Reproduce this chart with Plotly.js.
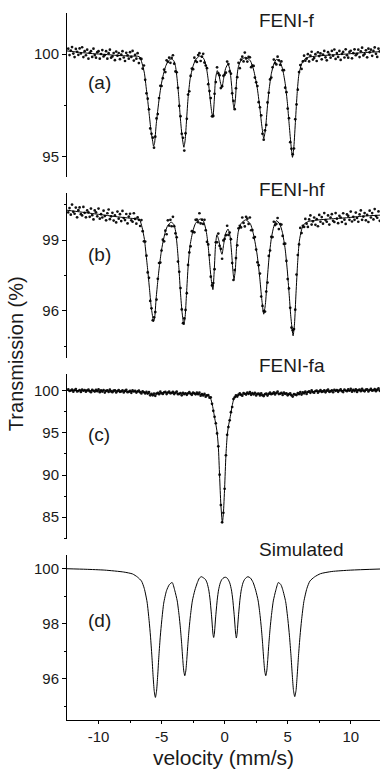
<!DOCTYPE html>
<html>
<head>
<meta charset="utf-8">
<script src="https://cdn.plot.ly/plotly-3.0.1.min.js"></script>
<style>html,body{margin:0;padding:0;background:#fff;}#chart{width:380px;height:773px;}</style>
</head>
<body>
<div id="chart"></div>
<script>
// ---- data ----
const sampleNames = ['FENI-f', 'FENI-hf', 'FENI-fa', 'Simulated'];
const panelLabels = ['(a)', '(b)', '(c)', '(d)'];
const xTickVals = [-10, -5, 0, 5, 10];
const xTickText = ['-10', '-5', '0', '5', '10'];

// channel velocities (mm/s) of the measured spectra
const velocity = [-12.4,-12.3,-12.2,-12.1,-12,-11.9,-11.8,-11.7,-11.6,-11.5,-11.4,-11.3,-11.2,-11.1,-11,-10.9,-10.8,-10.7,-10.6,-10.5,-10.4,-10.3,-10.2,-10.1,-10,-9.9,-9.8,-9.7,-9.6,-9.5,-9.4,-9.3,-9.2,-9.1,-9,-8.9,-8.8,-8.7,-8.6,-8.5,-8.4,-8.3,-8.2,-8.1,-8,-7.9,-7.8,-7.7,-7.6,-7.5,-7.4,-7.3,-7.2,-7.1,-7,-6.9,-6.8,-6.7,-6.6,-6.5,-6.4,-6.3,-6.2,-6.1,-6,-5.9,-5.8,-5.7,-5.6,-5.5,-5.4,-5.3,-5.2,-5.1,-5,-4.9,-4.8,-4.7,-4.6,-4.5,-4.4,-4.3,-4.2,-4.1,-4,-3.9,-3.8,-3.7,-3.6,-3.5,-3.4,-3.3,-3.2,-3.1,-3,-2.9,-2.8,-2.7,-2.6,-2.5,-2.4,-2.3,-2.2,-2.1,-2,-1.9,-1.8,-1.7,-1.6,-1.5,-1.4,-1.3,-1.2,-1.1,-1,-0.9,-0.8,-0.7,-0.6,-0.5,-0.4,-0.3,-0.2,-0.1,0,0.1,0.2,0.3,0.4,0.5,0.6,0.7,0.8,0.9,1,1.1,1.2,1.3,1.4,1.5,1.6,1.7,1.8,1.9,2,2.1,2.2,2.3,2.4,2.5,2.6,2.7,2.8,2.9,3,3.1,3.2,3.3,3.4,3.5,3.6,3.7,3.8,3.9,4,4.1,4.2,4.3,4.4,4.5,4.6,4.7,4.8,4.9,5,5.1,5.2,5.3,5.4,5.5,5.6,5.7,5.8,5.9,6,6.1,6.2,6.3,6.4,6.5,6.6,6.7,6.8,6.9,7,7.1,7.2,7.3,7.4,7.5,7.6,7.7,7.8,7.9,8,8.1,8.2,8.3,8.4,8.5,8.6,8.7,8.8,8.9,9,9.1,9.2,9.3,9.4,9.5,9.6,9.7,9.8,9.9,10,10.1,10.2,10.3,10.4,10.5,10.6,10.7,10.8,10.9,11,11.1,11.2,11.3,11.4,11.5,11.6,11.7,11.8,11.9,12,12.1,12.2,12.3];

// (a) FENI-f measured points
const dotsA = [100.26,99.95,100.17,100.34,100.02,99.85,100.25,100.11,99.96,100.27,
100.03,100.33,99.85,100.14,99.94,100.21,99.77,100.06,100.14,99.86,
100.26,99.95,99.82,100.09,100.14,99.77,100.00,100.19,99.88,99.95,
100.14,99.77,100.04,100.21,99.82,99.88,100.05,99.70,100.12,99.92,
100.05,99.75,99.97,100.14,99.83,99.66,100.06,99.93,99.77,100.09,
99.86,100.15,99.68,99.96,99.77,100.04,99.56,99.79,99.76,99.29,
99.44,98.74,98.08,97.82,97.30,96.37,96.11,95.92,95.43,95.97,
96.86,97.07,97.85,98.45,98.44,98.82,99.24,99.12,99.69,99.62,
99.82,99.57,99.81,99.94,99.53,99.15,99.11,98.35,97.47,96.97,
96.11,95.91,95.29,96.13,96.84,98.02,98.18,98.93,99.29,99.26,
99.82,99.66,99.61,99.95,100.04,99.66,99.87,100.01,99.58,99.44,
99.31,98.53,98.19,97.85,96.96,96.98,98.06,98.63,99.35,99.06,
98.96,98.34,98.43,98.94,98.99,99.09,99.63,99.51,99.15,99.04,
98.08,97.71,97.31,98.33,98.87,99.57,99.31,99.73,99.87,99.64,
100.07,99.78,99.63,99.86,99.84,99.36,99.43,99.42,98.85,98.62,
98.44,97.65,97.40,97.01,96.11,95.82,96.28,96.54,97.64,98.11,
98.76,98.85,99.35,99.73,99.56,99.49,99.87,99.69,99.47,99.64,
99.21,99.21,98.36,98.14,97.34,96.87,95.70,95.38,95.11,95.39,
96.82,97.54,98.26,99.12,99.46,99.27,99.64,99.92,99.67,99.77,
99.99,99.64,99.92,100.11,99.73,99.81,99.99,99.66,100.08,99.90,
100.03,99.74,99.97,100.15,99.84,99.69,100.09,99.97,99.82,100.15,
99.92,100.22,99.76,100.05,99.86,100.15,99.71,100.01,100.10,99.83,
100.23,99.94,99.82,100.10,100.16,99.79,100.04,100.23,99.94,100.01,
100.21,99.85,100.13,100.31,99.93,100.00,100.18,99.84,100.26,100.08,
100.21,99.91,100.15,100.32,100.01,99.86,100.26,100.13];

// (a) fitted curve
const fitAx = [-12.5,-11.5,-10.5,-9.5,-8.5,-7.5,-6.76,-6.55,-6.36,-6.23,-6.09,-5.96,-5.83,-5.7,-5.64,-5.56,-5.43,-5.3,-5.17,-5.03,-4.9,-4.69,-4.5,-4.24,-4.03,-3.89,-3.76,-3.63,-3.5,-3.37,-3.23,-3.13,-3.02,-2.89,-2.73,-2.52,-2.31,-1.99,-1.67,-1.46,-1.3,-1.17,-1.03,-0.93,-0.82,-0.72,-0.58,-0.45,-0.32,-0.21,-0.08,0.08,0.27,0.42,0.56,0.66,0.74,0.85,0.95,1.09,1.32,1.67,2.04,2.3,2.57,2.78,2.94,3.1,3.23,3.37,3.52,3.71,3.9,4.11,4.37,4.58,4.8,4.98,5.11,5.25,5.38,5.49,5.62,5.75,5.88,6.07,6.28,6.63,7.29,8.35,9.67,11,12.32];
const fitAy = [100.15,100.08,100.02,99.98,99.93,99.9,99.87,99.55,99.06,98.41,97.68,96.94,96.21,95.72,95.51,95.64,96.54,97.27,97.92,98.49,98.89,99.38,99.63,99.76,99.67,99.38,98.73,97.84,96.78,95.97,95.45,95.8,96.78,97.92,98.81,99.38,99.71,99.9,99.79,99.38,98.73,97.92,97.19,96.91,97.76,98.81,99.19,98.97,98.57,98.37,98.81,99.3,99.51,99.22,98.41,97.68,97.35,97.76,98.73,99.38,99.71,99.84,99.67,99.22,98.41,97.43,96.54,95.89,96.29,97.27,98.24,99.06,99.51,99.74,99.63,99.3,98.57,97.59,96.62,95.64,94.96,95.48,96.78,98.08,98.97,99.46,99.71,99.84,99.9,99.95,100,100.07,100.11];

// (b) FENI-hf measured points
const dotsB = [100.18,100.36,100.08,100.51,100.20,100.12,100.38,99.97,100.27,100.39,
100.10,100.05,100.41,100.16,99.97,100.26,100.18,99.99,100.34,100.06,
99.88,100.26,100.18,100.01,100.34,99.91,100.10,99.96,100.25,100.02,
99.84,100.14,100.30,99.89,100.01,100.16,99.83,100.05,99.75,100.21,
99.91,100.10,99.81,100.24,99.94,99.85,100.11,99.71,100.00,100.12,
99.84,99.78,100.14,99.90,99.70,99.97,99.86,99.60,99.85,99.38,
98.95,98.94,98.34,97.63,97.40,96.42,96.11,95.60,95.73,95.95,
96.48,97.36,98.03,98.05,98.56,99.02,98.95,99.40,99.25,99.84,
99.62,99.86,99.59,99.99,99.59,99.29,99.12,98.09,97.66,96.97,
96.06,95.48,95.68,96.04,96.75,97.95,98.48,98.74,99.38,99.35,
99.33,99.86,99.87,99.76,100.14,99.71,99.87,99.69,99.86,99.42,
98.93,98.82,98.37,97.45,97.08,97.18,97.77,98.91,98.91,99.28,
98.76,98.63,98.21,98.99,99.05,99.21,99.61,99.22,99.32,99.04,
98.03,97.31,97.73,98.24,98.78,99.50,99.61,99.54,99.96,99.73,
99.58,99.99,99.91,99.69,99.96,99.42,99.43,99.10,99.13,98.60,
98.06,97.94,97.58,96.61,96.21,95.99,95.97,96.82,97.20,98.33,
98.56,99.14,99.13,99.78,99.64,99.69,99.94,99.47,99.68,99.66,
99.18,98.84,98.85,98.12,97.35,96.95,96.13,95.29,95.18,95.23,
96.05,97.54,98.37,98.82,99.52,99.30,99.61,99.56,99.90,99.70,
99.56,99.88,100.05,99.66,99.80,99.96,99.65,99.89,99.59,100.07,
99.78,99.98,99.70,100.15,99.85,99.78,100.05,99.66,99.96,100.10,
99.82,99.77,100.15,99.91,99.72,100.03,99.96,99.77,100.14,99.87,
99.69,100.09,100.03,99.86,100.21,99.79,99.99,99.86,100.17,99.94,
99.78,100.09,100.26,99.86,100.00,100.15,99.84,100.07,99.77,100.25,
99.96,100.15,99.88,100.32,100.02,99.95,100.22,99.82];

// (b) fitted curve
const fitBx = [-12.5,-11.5,-10.5,-9.5,-8.5,-7.5,-6.76,-6.55,-6.36,-6.23,-6.09,-5.96,-5.83,-5.7,-5.64,-5.56,-5.43,-5.3,-5.17,-5.03,-4.9,-4.69,-4.5,-4.24,-4.03,-3.89,-3.76,-3.63,-3.5,-3.37,-3.23,-3.13,-3.02,-2.89,-2.73,-2.52,-2.31,-1.93,-1.67,-1.46,-1.3,-1.17,-1.03,-0.93,-0.82,-0.72,-0.61,-0.45,-0.32,-0.21,-0.08,0.08,0.27,0.42,0.56,0.66,0.74,0.85,0.95,1.09,1.32,1.67,2.04,2.3,2.57,2.78,2.94,3.1,3.23,3.37,3.52,3.71,3.9,4.11,4.37,4.58,4.8,4.98,5.11,5.25,5.43,5.54,5.66,5.79,5.92,6.1,6.3,6.63,7.29,8.35,9.67,11,12.32];
const fitBy = [100.27,100.2,100.13,100.06,99.99,99.93,99.87,99.55,99.03,98.4,97.68,96.94,96.2,95.72,95.54,95.66,96.54,97.27,97.92,98.49,98.89,99.38,99.63,99.76,99.67,99.38,98.73,97.84,96.75,95.92,95.4,95.76,96.75,97.92,98.81,99.38,99.71,99.9,99.79,99.38,98.73,97.92,97.18,96.9,97.76,98.81,99.23,98.97,98.57,98.4,98.81,99.28,99.47,99.2,98.41,97.68,97.33,97.76,98.73,99.38,99.72,99.86,99.69,99.22,98.41,97.43,96.52,95.86,96.27,97.27,98.24,99.1,99.58,99.83,99.68,99.33,98.62,97.65,96.75,95.75,94.94,95.45,96.75,98.05,98.95,99.44,99.68,99.79,99.85,99.9,99.95,100.02,100.06];

// (c) FENI-fa measured points
const dotsC = [100.19,99.98,100.03,100.15,99.90,100.09,100.22,99.93,99.98,100.10,
99.86,100.15,100.01,100.10,99.89,100.05,100.16,99.95,99.83,100.11,
100.01,99.91,100.13,99.96,100.17,99.84,100.05,99.91,100.10,99.79,
100.00,100.06,99.86,100.14,99.93,99.84,100.02,100.06,99.80,99.97,
100.09,99.88,99.93,100.06,99.80,99.99,100.12,99.84,99.88,100.00,
99.76,100.06,99.92,100.00,99.79,99.95,100.04,99.82,99.68,99.95,
99.83,99.69,99.87,99.67,99.85,99.47,99.64,99.47,99.68,99.41,
99.67,99.76,99.60,99.90,99.71,99.63,99.83,99.87,99.62,99.79,
99.92,99.70,99.75,99.87,99.61,99.79,99.90,99.60,99.63,99.73,
99.47,99.76,99.61,99.71,99.52,99.71,99.84,99.64,99.52,99.80,
99.69,99.58,99.78,99.60,99.78,99.43,99.61,99.45,99.63,99.31,
99.47,99.48,99.19,99.22,98.46,97.62,96.91,96.15,94.94,93.41,
90.04,86.43,84.38,85.51,88.36,92.35,94.78,95.70,96.50,97.47,
98.08,99.03,99.24,99.46,99.32,99.54,99.69,99.52,99.42,99.73,
99.65,99.56,99.79,99.64,99.86,99.53,99.73,99.58,99.77,99.45,
99.64,99.67,99.45,99.69,99.46,99.38,99.60,99.67,99.44,99.64,
99.79,99.60,99.66,99.81,99.57,99.77,99.90,99.61,99.65,99.76,
99.51,99.80,99.64,99.70,99.47,99.61,99.69,99.46,99.32,99.62,
99.55,99.49,99.74,99.62,99.86,99.56,99.81,99.70,99.92,99.63,
99.86,99.94,99.76,100.05,99.85,99.77,99.98,100.02,99.77,99.94,
100.08,99.87,99.93,100.06,99.82,100.02,100.15,99.88,99.94,100.07,
99.83,100.13,100.00,100.09,99.88,100.06,100.17,99.96,99.85,100.14,
100.04,99.95,100.17,100.01,100.23,99.90,100.11,99.97,100.18,99.87,
100.08,100.14,99.96,100.24,100.03,99.94,100.14,100.18,99.92,100.09,
100.23,100.02,100.07,100.20,99.96,100.15,100.28,100.00];

// (c) fitted curve
const fitCx = [-12.5,-11,-9.5,-8,-7,-6.4,-6,-5.7,-5.4,-5,-4.4,-3.8,-3.2,-2.7,-2.2,-1.8,-1.5,-1.3,-1.2,-1.1,-1,-0.9,-0.8,-0.7,-0.6,-0.5,-0.4,-0.3,-0.18,-0.1,0,0.1,0.2,0.3,0.4,0.5,0.6,0.7,0.8,1,1.3,2,2.6,3,3.5,4.2,4.8,5.4,5.9,6.5,7.2,8.5,10.5,12.32];
const fitCy = [100.05,100.02,99.99,99.95,99.9,99.82,99.67,99.55,99.65,99.75,99.78,99.72,99.62,99.7,99.65,99.55,99.5,99.4,99.3,99.05,98.5,97.75,96.85,96.05,95.1,93.4,89.9,86.5,84.36,85.4,88.5,92.3,94.6,95.8,96.55,97.4,98.25,98.9,99.25,99.45,99.58,99.68,99.62,99.5,99.63,99.72,99.65,99.5,99.65,99.82,99.92,100,100.06,100.1];

// (d) simulated spectrum
const simDx = [-12.5,-11,-9.5,-8,-7.3,-6.92,-6.59,-6.37,-6.15,-5.99,-5.88,-5.77,-5.67,-5.58,-5.49,-5.4,-5.31,-5.21,-5.1,-4.99,-4.83,-4.61,-4.39,-4.16,-3.96,-3.76,-3.61,-3.51,-3.41,-3.32,-3.24,-3.16,-3.08,-3,-2.91,-2.81,-2.71,-2.56,-2.36,-2.16,-2,-1.85,-1.68,-1.52,-1.39,-1.26,-1.16,-1.1,-1.03,-0.97,-0.92,-0.87,-0.82,-0.77,-0.71,-0.64,-0.58,-0.48,-0.35,-0.22,-0.05,0.08,0.2,0.28,0.41,0.54,0.64,0.7,0.77,0.83,0.88,0.93,0.98,1.03,1.09,1.16,1.22,1.32,1.45,1.58,1.72,1.85,2.05,2.26,2.46,2.66,2.81,2.91,3.01,3.1,3.18,3.26,3.34,3.42,3.51,3.61,3.71,3.86,4.06,4.26,4.46,4.6,4.84,5.02,5.14,5.26,5.37,5.46,5.56,5.66,5.75,5.86,5.98,6.1,6.28,6.52,6.76,7.12,7.6,8.5,10,12.32];
const simDy = [100,99.98,99.95,99.88,99.81,99.7,99.55,99.28,98.79,98.12,97.55,96.83,96.08,95.54,95.32,95.55,96.1,96.85,97.55,98.1,98.75,99.2,99.42,99.5,99.22,98.83,98.3,97.85,97.29,96.7,96.28,96.11,96.28,96.7,97.29,97.85,98.3,98.83,99.22,99.5,99.66,99.71,99.67,99.61,99.48,99.23,98.9,98.61,98.25,97.88,97.61,97.5,97.61,97.88,98.25,98.61,98.9,99.23,99.48,99.61,99.68,99.69,99.66,99.61,99.48,99.23,98.9,98.61,98.25,97.88,97.61,97.48,97.61,97.88,98.25,98.61,98.9,99.23,99.48,99.61,99.68,99.71,99.66,99.5,99.22,98.83,98.3,97.85,97.29,96.7,96.28,96.11,96.28,96.7,97.29,97.85,98.3,98.83,99.22,99.5,99.42,99.25,98.8,98.13,97.56,96.85,96.1,95.57,95.35,95.57,96.1,96.85,97.56,98.13,98.8,99.28,99.55,99.7,99.82,99.9,99.95,99.99];

// ---- drawing ----
const FONT = 'Arial, "Liberation Sans", Helvetica, sans-serif';
const INK = '#1a1a1a';

function dotTrace(y, ax) {
  return {x: velocity, y: y, yaxis: ax, xaxis: 'x', mode: 'markers', type: 'scatter',
    marker: {size: 2.7, color: '#111', line: {width: 0}}, hoverinfo: 'skip'};
}
function lineTrace(x, y, ax) {
  return {x: x, y: y, yaxis: ax, xaxis: 'x', mode: 'lines', type: 'scatter',
    line: {color: '#000', width: 1, shape: 'spline', smoothing: 0.6}, hoverinfo: 'skip'};
}

const data = [
  dotTrace(dotsA, 'y'), lineTrace(fitAx, fitAy, 'y'),
  dotTrace(dotsB, 'y2'), lineTrace(fitBx, fitBy, 'y2'),
  dotTrace(dotsC, 'y3'), lineTrace(fitCx, fitCy, 'y3'),
  lineTrace(simDx, simDy, 'y4')
];

function yAxis(domain, range, dtick, minorDtick) {
  return {
    domain: domain, range: range, anchor: 'x',
    showline: true, linecolor: '#000', linewidth: 1,
    ticks: 'outside', ticklen: 4, tickwidth: 1, tickcolor: '#000',
    tickmode: 'linear', tick0: 0, dtick: dtick,
    minor: {ticks: 'outside', ticklen: 2.5, tickwidth: 1, tickcolor: '#000', tickmode: 'linear', tick0: 0, dtick: minorDtick},
    showgrid: false, zeroline: false,
    tickfont: {size: 15, color: INK, family: FONT}
  };
}

const layout = {
  width: 380, height: 773,
  margin: {l: 67, r: 0, t: 13, b: 53, pad: 0},
  paper_bgcolor: '#fff', plot_bgcolor: '#fff',
  showlegend: false,
  font: {family: FONT, color: INK},
  xaxis: {
    domain: [0, 1], anchor: 'y4', range: [-12.5, 12.32],
    showline: true, linecolor: '#000', linewidth: 1,
    ticks: 'outside', ticklen: 3, tickwidth: 1, tickcolor: '#000',
    tickmode: 'array', tickvals: xTickVals, ticktext: xTickText,
    minor: {ticks: 'outside', ticklen: 2, tickwidth: 1, tickcolor: '#000', tickmode: 'array', tickvals: [-7.5, -2.5, 2.5, 7.5]},
    showgrid: false, zeroline: false,
    tickfont: {size: 15, color: INK, family: FONT},
    title: {text: 'velocity (mm/s)', font: {size: 21, color: INK, family: FONT}, standoff: 6}
  },
  yaxis: yAxis([0.768, 1], [94, 102], 5, 2.5),
  yaxis2: yAxis([0.512, 0.7454], [94, 101], 3, 1.5),
  yaxis3: yAxis([0.256, 0.4894], [82.4, 102], 5, 2.5),
  yaxis4: yAxis([0, 0.2334], [94.5, 100.5], 2, 1),
  annotations: []
};

const titleY = [0.990, 0.751, 0.502, 0.2405];
const labelY = [98.63, 98.4, 94.8, 98.11];
const axesRef = ['y', 'y2', 'y3', 'y4'];
for (let i = 0; i < 4; i++) {
  layout.annotations.push({
    text: sampleNames[i], xref: 'paper', yref: 'paper', x: 0.607, y: titleY[i],
    xanchor: 'left', yanchor: 'middle', showarrow: false,
    font: {size: 19, color: INK, family: FONT}
  });
  layout.annotations.push({
    text: panelLabels[i], xref: 'x', yref: axesRef[i], x: -9.94, y: labelY[i],
    xanchor: 'center', yanchor: 'middle', showarrow: false,
    font: {size: 19, color: INK, family: FONT}
  });
}
layout.annotations.push({
  text: 'Transmission (%)', xref: 'paper', yref: 'paper', x: -0.165, y: 0.518,
  xanchor: 'center', yanchor: 'middle', textangle: -90, showarrow: false,
  font: {size: 20, color: INK, family: FONT}
});

Plotly.newPlot('chart', data, layout, {staticPlot: true, displayModeBar: false});
</script>
</body>
</html>
